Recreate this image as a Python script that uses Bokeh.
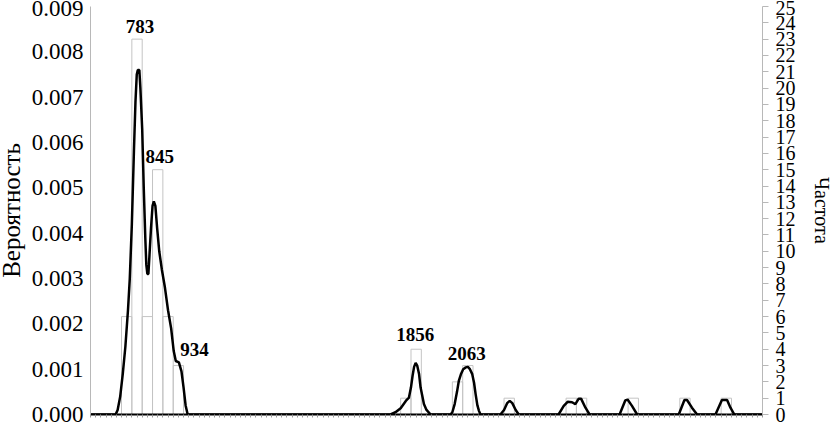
from bokeh.plotting import figure
from bokeh.models import (Range1d, LinearAxis, FixedTicker, NumeralTickFormatter,
                          ColumnDataSource)
from bokeh.embed import file_html
from bokeh.resources import INLINE
from bokeh.core.properties import value

# ---------------- data ----------------
bin_width = 40
x_start = 600
x_end = 3200
bin_left = [720, 760, 800, 840, 880, 920, 1800, 1840, 2000, 2040, 2200,
            2440, 2480, 2680, 2880, 3040]
bin_count = [6, 23, 6, 15, 6, 3, 1, 4, 2, 3, 1, 1, 1, 1, 1, 1]

dens_x = [600, 697, 705, 715, 725, 735, 745, 752, 760, 768, 774, 779, 783, 789,
          793, 800, 806, 812, 816, 820, 824, 828, 834, 840, 845, 851, 858, 866,
          876, 888, 900, 912, 922, 930, 942, 952, 960, 968, 976,
          1761, 1780, 1800, 1820, 1832, 1840, 1846, 1852, 1858, 1864, 1871,
          1877, 1884, 1890, 1900, 1916,
          1993, 2000, 2009, 2018, 2025, 2034, 2042, 2052, 2060, 2068, 2077,
          2084, 2090, 2097, 2103, 2109,
          2186, 2200, 2212, 2222, 2232, 2245, 2257,
          2411, 2431, 2446, 2463, 2476, 2489, 2498, 2515, 2531,
          2647, 2669, 2678, 2695, 2715,
          2876, 2898, 2908, 2927, 2947,
          3018, 3043, 3063, 3076, 3091, 3200]
dens_y = [0, 0, 0.0001, 0.0004, 0.0009, 0.0015, 0.0023, 0.0030, 0.0042, 0.0058,
          0.0069, 0.0075, 0.0076, 0.0076, 0.0072, 0.0063, 0.0050, 0.0039,
          0.0033, 0.0031, 0.0031, 0.0035, 0.0041, 0.0046, 0.0047, 0.0046,
          0.0041, 0.0036, 0.0032, 0.0028, 0.0023, 0.0019, 0.0014, 0.00118,
          0.00115, 0.00095, 0.0006, 0.0002, 0,
          0, 0.00005, 0.00014, 0.0003, 0.00037, 0.0006, 0.00085, 0.00105,
          0.00114, 0.00108, 0.0009, 0.0006, 0.0004, 0.00023, 0.0001, 0,
          0, 0.00005, 0.00023, 0.0005, 0.00074, 0.0009, 0.0010, 0.00104,
          0.00105, 0.0010, 0.00089, 0.0007, 0.00045, 0.0002, 0.00008, 0,
          0, 0.0001, 0.00025, 0.0003, 0.00025, 0.0001, 0,
          0, 0.00019, 0.00028, 0.00027, 0.00023, 0.00035, 0.00035, 0.00015, 0,
          0, 0.00031, 0.00033, 0.00019, 0,
          0, 0.00032, 0.00032, 0.00015, 0,
          0, 0.00032, 0.00032, 0.00015, 0, 0]

peak_values = [783, 845, 934, 1856, 2063]
peak_dx = [3, 2, 16, -1, -1]                 # label nudges in screen px
peak_lift = [0.77, 0.82, 0.96, 0.92, 0.75]   # label centre above its bar (frequency units)

prob_max = 0.009
freq_max = 25
prob_ticks = [i / 1000 for i in range(10)]
freq_ticks = list(range(26))

# ---------------- figure ----------------
FONT = "Liberation Serif"
SHIFT = 8   # figure is pushed this many px left of the window edge

p = figure(width=835 + SHIFT, height=428, output_backend="svg",
           toolbar_location=None,
           x_range=Range1d(x_start, x_end), y_range=Range1d(0, prob_max),
           min_border_left=90 + SHIFT, min_border_right=73, min_border_top=6,
           min_border_bottom=14, x_axis_location="below")
p.styles = {"position": "absolute", "left": f"-{SHIFT}px", "top": "0px"}
p.outline_line_color = None
p.xgrid.visible = False
p.ygrid.visible = False
p.background_fill_color = "white"
p.border_fill_color = "white"
p.extra_y_ranges = {"freq": Range1d(0, freq_max)}

# histogram
bars = ColumnDataSource(dict(left=bin_left,
                             right=[b + bin_width for b in bin_left],
                             top=bin_count))
p.quad(left="left", right="right", bottom=0, top="top", source=bars,
       y_range_name="freq", fill_color=None, line_color="#c4c4c4", line_width=1)

# density line
p.line(dens_x, dens_y, line_color="black", line_width=2.5)

# peak labels
lab_x, lab_y = [], []
for v, lift in zip(peak_values, peak_lift):
    left = x_start + ((v - x_start) // bin_width) * bin_width
    lab_x.append(left + bin_width / 2)
    lab_y.append(bin_count[bin_left.index(left)] + lift)
labels = ColumnDataSource(dict(x=lab_x, y=lab_y, t=[str(v) for v in peak_values],
                               dx=peak_dx))
p.text(x="x", y="y", text="t", source=labels, y_range_name="freq",
       x_offset="dx", text_align="center",
       text_baseline="middle", text_font=value(FONT),
       text_font_style="bold", text_font_size="19px", text_color="black")

# bottom axis: only small tick marks, no labels
xa = p.xaxis[0]
xa.ticker = FixedTicker(ticks=[], minor_ticks=list(range(x_start, x_end + 1, 20)))
xa.minor_tick_out = 3
xa.minor_tick_in = 0
xa.minor_tick_line_color = "#9a9a9a"
xa.major_tick_line_color = None
xa.axis_line_color = "black"
xa.axis_line_width = 2

# left axis
ya = p.yaxis[0]
ya.ticker = FixedTicker(ticks=prob_ticks)
ya.formatter = NumeralTickFormatter(format="0.000")
ya.major_label_text_font = FONT
ya.major_label_text_font_size = "23px"
ya.major_label_text_color = "black"
ya.major_label_standoff = 7
ya.major_tick_out = 0
ya.major_tick_in = 0
ya.minor_tick_line_color = None
ya.axis_line_color = "#b8b8b8"
ya.axis_label = "Вероятность"
ya.axis_label_text_font = FONT
ya.axis_label_text_font_size = "25px"
ya.axis_label_text_font_style = "normal"
ya.axis_label_text_color = "black"
ya.axis_label_standoff = 4

# right axis
ra = LinearAxis(y_range_name="freq", ticker=FixedTicker(ticks=freq_ticks))
ra.major_label_text_font = FONT
ra.major_label_text_font_size = "20px"
ra.major_label_text_color = "black"
ra.major_label_standoff = 7
ra.major_tick_out = 6
ra.major_tick_in = 0
ra.major_tick_line_color = "#b8b8b8"
ra.minor_tick_line_color = None
ra.axis_line_color = "#b8b8b8"
ra.axis_label = "Частота"
ra.axis_label_text_font = FONT
ra.axis_label_text_font_size = "20px"
ra.axis_label_text_font_style = "normal"
ra.axis_label_text_color = "black"
ra.axis_label_standoff = 12
p.add_layout(ra, "right")

open("out.html", "w").write(file_html(p, INLINE))
